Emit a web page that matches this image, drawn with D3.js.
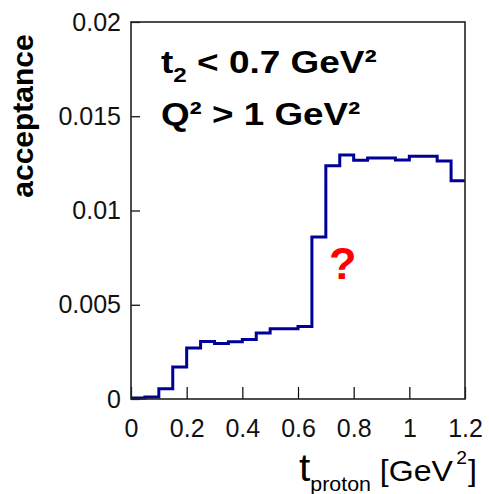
<!DOCTYPE html>
<html>
<head>
<meta charset="utf-8">
<script src="https://cdn.jsdelivr.net/npm/d3@7"></script>
<style>
  html, body { margin: 0; padding: 0; background: #ffffff; }
  svg { display: block; font-family: "Liberation Sans", Arial, Helvetica, sans-serif; }
</style>
</head>
<body>
<svg id="chart" width="489" height="494"></svg>
<script>
// Histogram binning: 24 bins of 0.05 GeV^2 starting at t = 0
const binLow = 0;
const binWidth = 0.05;
// Acceptance per t_proton bin
const acceptance = [
  0.00005, 0.0001, 0.00055, 0.0017, 0.0027, 0.00305, 0.00295, 0.00304,
  0.00315, 0.0035, 0.00373, 0.00373, 0.00385, 0.0086, 0.01237, 0.01295,
  0.01266, 0.01279, 0.01279, 0.01268, 0.01288, 0.01288, 0.01262, 0.01158
];

const xTicks = [0, 0.2, 0.4, 0.6, 0.8, 1, 1.2];
const xTickLabels = ["0", "0.2", "0.4", "0.6", "0.8", "1", "1.2"];
const yTicks = [0, 0.005, 0.01, 0.015, 0.02];
const yTickLabels = ["0", "0.005", "0.01", "0.015", "0.02"];
const xMinorStep = 0.05;
const yMinorStep = 0.001;

const svg = d3.select("#chart");
const W = 489, H = 494;
const margin = { left: 131, right: 24, top: 22, bottom: 95 };

const x = d3.scaleLinear().domain([0, 1.2]).range([margin.left, W - margin.right]);
const y = d3.scaleLinear().domain([0, 0.02]).range([H - margin.bottom, margin.top]);

const isMajor = (v, majors) => majors.some(m => Math.abs(m - v) < 1e-9);
const xMinor = d3.range(0, 1.2 + 1e-9, xMinorStep).filter(v => !isMajor(v, xTicks));
const yMinor = d3.range(0, 0.02 + 1e-9, yMinorStep).filter(v => !isMajor(v, yTicks));

// Histogram drawn as a step line
const pts = acceptance.map((v, i) => [binLow + i * binWidth, v]);
pts.push([binLow + acceptance.length * binWidth, acceptance[acceptance.length - 1]]);
const step = d3.line()
  .x(d => x(d[0]))
  .y(d => y(d[1]))
  .curve(d3.curveStepAfter);

svg.append("path")
  .datum(pts)
  .attr("d", step)
  .attr("fill", "none")
  .attr("stroke", "#000099")
  .attr("stroke-width", 3)
  .attr("stroke-linejoin", "miter");

// Axes (ticks pointing inward)
const gx = svg.append("g").attr("transform", `translate(0,${y(0)})`);
gx.call(d3.axisBottom(x).tickValues(xMinor).tickSizeInner(-6).tickSizeOuter(0).tickFormat(""));
gx.call(d3.axisBottom(x).tickValues(xTicks).tickSizeInner(-12).tickSizeOuter(0)
  .tickPadding(20).tickFormat((d, i) => xTickLabels[i]));
gx.selectAll(".domain").remove();
gx.selectAll("text").attr("font-size", 25).attr("fill", "#111")
  .attr("font-family", "Liberation Sans, Arial, sans-serif");
gx.selectAll("line").attr("stroke", "#000").attr("stroke-width", 1.2);

const gy = svg.append("g").attr("transform", `translate(${x(0)},0)`);
gy.call(d3.axisLeft(y).tickValues(yMinor).tickSizeInner(-4.5).tickSizeOuter(0).tickFormat(""));
gy.call(d3.axisLeft(y).tickValues(yTicks).tickSizeInner(-9).tickSizeOuter(0)
  .tickPadding(10).tickFormat((d, i) => yTickLabels[i]));
gy.selectAll(".domain").remove();
gy.selectAll("text").attr("font-size", 25).attr("fill", "#111")
  .attr("font-family", "Liberation Sans, Arial, sans-serif");
gy.selectAll("line").attr("stroke", "#000").attr("stroke-width", 1.2);

// Frame
svg.append("rect")
  .attr("x", x(0)).attr("y", y(0.02))
  .attr("width", x(1.2) - x(0)).attr("height", y(0) - y(0.02))
  .attr("fill", "none").attr("stroke", "#222").attr("stroke-width", 1.6);

// Axis titles
svg.append("text")
  .attr("transform", `translate(33,116) rotate(-90)`)
  .attr("text-anchor", "middle")
  .attr("font-weight", "bold")
  .attr("font-size", 30)
  .text("acceptance");

const xt = svg.append("text")
  .attr("transform", "translate(299,481) scale(1.07,1)")
  .attr("fill", "#000");
xt.append("tspan").attr("font-size", 38).text("t");
xt.append("tspan").attr("font-size", 20).attr("dy", 10).text("proton");
xt.append("tspan").attr("font-size", 30).attr("dy", -10).text(" [GeV");
xt.append("tspan").attr("font-size", 18).attr("dy", -17).attr("dx", 3).text("2");
xt.append("tspan").attr("font-size", 30).attr("dy", 17).attr("dx", 1).text("]");

// Selection annotations
const l1 = svg.append("text")
  .attr("transform", "translate(161,73) scale(1.155,1)")
  .attr("font-weight", "bold").attr("font-size", 32);
l1.append("tspan").text("t");
l1.append("tspan").attr("font-size", 21).attr("dy", 9).text("2");
l1.append("tspan").attr("dy", -9).text(" < 0.7 GeV²");

svg.append("text")
  .attr("transform", "translate(161,125) scale(1.15,1)")
  .attr("font-weight", "bold").attr("font-size", 32)
  .text("Q² > 1 GeV²");

svg.append("text").attr("x", 329).attr("y", 279)
  .attr("font-weight", "bold").attr("font-size", 45)
  .attr("fill", "#ff0000")
  .text("?");
</script>
</body>
</html>
